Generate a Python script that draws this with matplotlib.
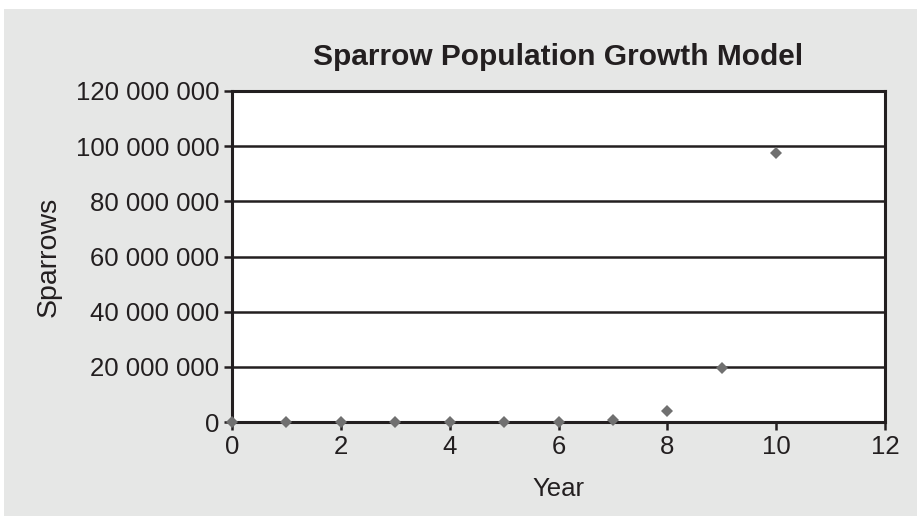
import matplotlib.pyplot as plt
from matplotlib.patches import Rectangle
from matplotlib.ticker import FuncFormatter

years = [0, 1, 2, 3, 4, 5, 6, 7, 8, 9, 10]
sparrows = [10, 50, 250, 1250, 6250, 31250, 156250, 781250,
            3906250, 19531250, 97656250]

x_ticks = [0, 2, 4, 6, 8, 10, 12]
y_ticks = [0, 20000000, 40000000, 60000000, 80000000, 100000000, 120000000]

text_col = '#231f20'
bg_col = '#e6e7e6'

plt.rcParams['font.family'] = ['Liberation Sans', 'DejaVu Sans']

fig = plt.figure(figsize=(9.18, 5.17), dpi=100)
fig.patch.set_facecolor('white')
# grey panel behind the chart
fig.patches.append(Rectangle((4 / 918, 1 / 517), 913 / 918, 507 / 517,
                             transform=fig.transFigure, facecolor=bg_col,
                             edgecolor='none', zorder=-10))

ax = fig.add_axes([232 / 918, 95 / 517, 653 / 918, 331 / 517])
ax.set_facecolor('white')

ax.plot(years, sparrows, linestyle='none', marker='D', markersize=6.5,
        color='#707070', markeredgewidth=0, clip_on=False, zorder=5)

ax.set_xlim(0, 12)
ax.set_ylim(0, 120000000)
ax.set_xticks(x_ticks)
ax.set_yticks(y_ticks)
ax.yaxis.set_major_formatter(FuncFormatter(lambda v, p: f'{int(v):,}'.replace(',', ' ')))

ax.grid(axis='y', color=text_col, linewidth=1.8)
ax.set_axisbelow(True)
for s in ax.spines.values():
    s.set_color(text_col)
    s.set_linewidth(2.2)

ax.tick_params(axis='both', direction='out', length=6, width=1.8,
               color=text_col, labelcolor=text_col, labelsize=18.5, pad=3)
ax.tick_params(axis='x', pad=3)

ax.set_xlabel('Year', fontsize=18.5, color=text_col, labelpad=13)
ax.set_ylabel('Sparrows', fontsize=20.5, color=text_col, labelpad=10)
ax.set_title('Sparrow Population Growth Model', fontsize=21.5, fontweight='bold',
             color=text_col, pad=19)

fig.savefig('out.png', dpi=100, facecolor='white')
